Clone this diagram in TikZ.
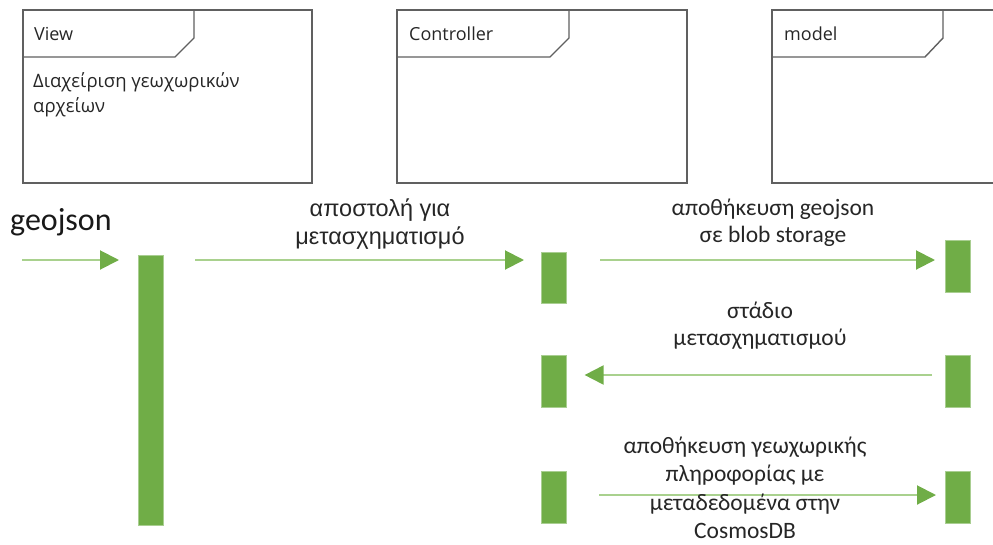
\documentclass[tikz,border=0pt]{standalone}
\usepackage{fontspec}
\setmainfont{Carlito}
\newfontfamily\arialf{Liberation Sans}
\newfontfamily\segoef{Open Sans}
\usetikzlibrary{arrows.meta}
\definecolor{barg}{HTML}{70AD47}
\definecolor{lineg}{HTML}{A9D18E}
\definecolor{frameg}{HTML}{606060}
\tikzset{
  frame/.style={draw=frameg, line width=1.4pt},
  actbar/.style={fill=barg, draw=barg!60!white, line width=0.6pt, minimum width=25pt, inner sep=0pt, anchor=north west},
  msg/.style={draw=lineg, line width=2pt, -{Triangle[length=19pt,width=19pt,fill=barg,color=barg]}},
  lbl/.style={font=\fontsize{23.5}{27}\selectfont, align=center, text=black!85, inner sep=0pt},
  ftitle/.style={font=\segoef\fontsize{18}{18}\selectfont, anchor=base west, inner sep=0pt, text=black!85},
}
\begin{document}
\begin{tikzpicture}[x=1pt,y=-1pt]
\useasboundingbox (0,0) rectangle (993,544);
\begin{scope}
\clip (0,0) rectangle (993,544);
% frames
\draw[frame] (23,10) rectangle (312,183);
\draw[frame] (23,57) -- (175,57) -- (194,38) -- (194,10);
\draw[frame] (397,10) rectangle (687,183);
\draw[frame] (397,57) -- (550,57) -- (569,38) -- (569,10);
\draw[frame] (1000,10) -- (772,10) -- (772,183) -- (1000,183);
\draw[frame] (772,57) -- (925,57) -- (943,38) -- (943,10);
\end{scope}
\node[ftitle] (tview) at (34,40) {View};
\node[ftitle] (tctrl) at (409,40) {Controller};
\node[ftitle] (tmodel) at (784,40) {model};
\node[font=\segoef\fontsize{18.5}{25}\selectfont, align=left, anchor=base west, inner sep=0pt, text=black!85] (vdesc) at (33,112) {Διαχείριση γεωχωρικών\\αρχείων};
% activation bars
\node[actbar, minimum height=270pt] (bv) at (138,255) {};
\node[actbar, minimum height=51pt] (bc1) at (541,252) {};
\node[actbar, minimum height=52pt] (bm1) at (945,240) {};
\node[actbar, minimum height=52pt] (bc2) at (541,355) {};
\node[actbar, minimum height=52pt] (bm2) at (945,355) {};
\node[actbar, minimum height=52pt] (bc3) at (541,471) {};
\node[actbar, minimum height=52pt] (bm3) at (945,471) {};
% message start points
\coordinate (s0) at (22,260);
\coordinate (s1) at (195,260);
\coordinate (s2) at (600,260);
\coordinate (s3) at (932,375);
\coordinate (s4) at (599,495);
\draw[msg, shorten >=19pt] (s0) -- (s0 -| bv.west);
\draw[msg, shorten >=17pt] (s1) -- (s1 -| bc1.west);
\draw[msg, shorten >=10pt] (s2) -- (s2 -| bm1.west);
\draw[msg, shorten >=18pt] (s3) -- (s3 -| bc2.east);
\draw[msg, shorten >=9pt] (s4) -- (s4 -| bm3.west);
% labels
\node[font=\fontsize{32}{34}\selectfont, anchor=base west, inner sep=0pt, text=black!90] (lgeo) at (10,230) {geojson};
\node[lbl, font=\arialf\fontsize{23.5}{28}\selectfont] (l1) at (380,224) {αποστολή για\\μετασχηματισμό};
\node[lbl] (l2) at (773,223) {αποθήκευση geojson\\σε blob storage};
\node[lbl] (l3) at (760,326) {στάδιο\\μετασχηματισμού};
\node[lbl, font=\fontsize{23.5}{28.5}\selectfont] (l4) at (745,488) {αποθήκευση γεωχωρικής\\πληροφορίας με\\μεταδεδομένα στην\\CosmosDB};
\end{tikzpicture}
\end{document}
